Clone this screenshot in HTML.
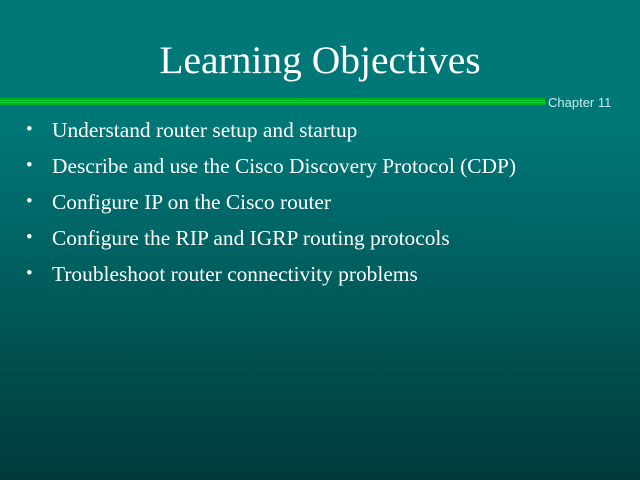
<!DOCTYPE html>
<html><head><style>
html,body{margin:0;padding:0}
body{width:640px;height:480px;overflow:hidden;position:relative;
background:linear-gradient(to bottom,#007878 0px,#007777 120px,#005a5a 300px,#003a3a 480px);
font-family:"Liberation Serif",serif;color:#fff}
.t{position:absolute;top:37px;left:0;width:640px;text-align:center;font-size:39.5px;line-height:46px}
.bar{position:absolute;left:0;top:98px;width:545px;height:7px;
background:linear-gradient(to bottom,#00b020 0,#00b020 2px,#00d030 2px,#00d030 3px,#00a020 3px,#00a020 4px,#00d030 4px,#00d030 5px,#00b020 5px)}
.ch{position:absolute;left:548px;top:95px;font-family:"Liberation Sans",sans-serif;font-size:13px;color:#c8ecec}
ul{position:absolute;left:26px;top:117px;margin:0;padding:0;list-style:none;font-size:21.4px}
li{height:36px;line-height:26px;position:relative;padding-left:26px;white-space:nowrap}
li:before{content:"•";position:absolute;left:0;top:0;font-size:19px}
</style></head><body>
<div class="t">Learning Objectives</div>
<div class="bar"></div>
<div class="ch">Chapter 11</div>
<ul>
<li>Understand router setup and startup</li>
<li>Describe and use the Cisco Discovery Protocol (CDP)</li>
<li>Configure IP on the Cisco router</li>
<li>Configure the RIP and IGRP routing protocols</li>
<li>Troubleshoot router connectivity problems</li>
</ul>
</body></html>
